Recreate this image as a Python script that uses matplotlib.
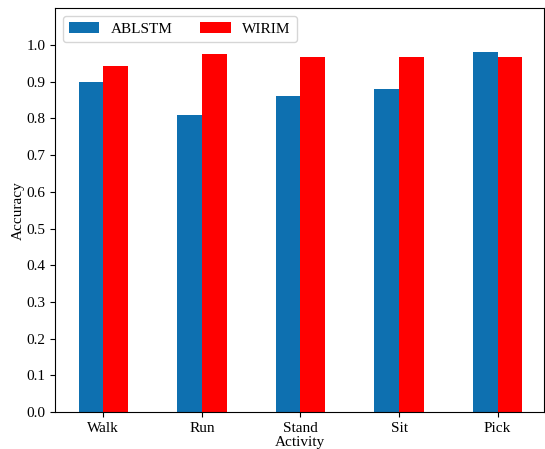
import matplotlib
matplotlib.use('Agg')
import matplotlib.pyplot as plt
import numpy as np

plt.rcParams['font.family'] = ['Liberation Serif', 'DejaVu Serif']

activities = ['Walk', 'Run', 'Stand', 'Sit', 'Pick']
ablstm = [0.90, 0.81, 0.86, 0.88, 0.98]
wirim = [0.943, 0.975, 0.967, 0.967, 0.967]

x = np.arange(len(activities))
width = 0.25

fig = plt.figure(figsize=(5.45, 4.49), dpi=100)
ax = fig.add_axes([0.101, 0.082, 0.897, 0.9])

ax.bar(x - width / 2, ablstm, width, color='#0e70b0', label='ABLSTM')
ax.bar(x + width / 2, wirim, width, color='#ff0000', label='WIRIM')

ax.set_xlim(-0.49, 4.47)
ax.set_ylim(0, 1.1)
ax.set_yticks(np.arange(0, 1.01, 0.1))
ax.set_yticklabels([f'{v:.1f}' for v in np.arange(0, 1.01, 0.1)])
ax.set_xticks(x)
ax.set_xticklabels(activities)
ax.tick_params(labelsize=11)
ax.set_xlabel('Activity', fontsize=11, labelpad=1)
ax.set_ylabel('Accuracy', fontsize=11, labelpad=1)
ax.legend(loc='upper left', ncol=2, fontsize=11, columnspacing=1.8,
          handlelength=2.0, handletextpad=0.75)

fig.savefig('out.png', dpi=100)
